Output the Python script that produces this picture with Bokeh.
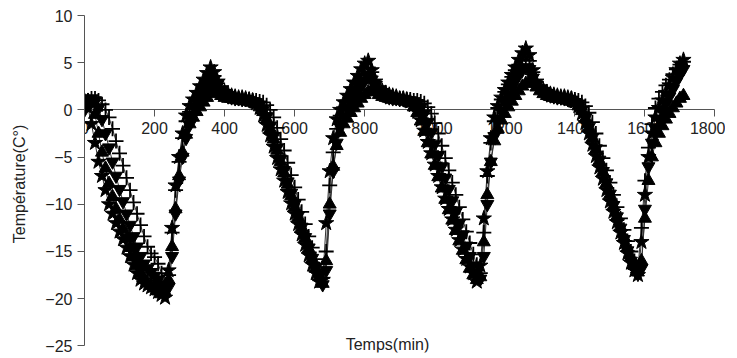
from bokeh.plotting import figure
from bokeh.models import Range1d, FixedTicker, Label
from bokeh.embed import file_html
from bokeh.resources import INLINE

# ---- data ----
time_min = list(range(0, 1720, 10))

x_ticks = [0, 200, 400, 600, 800, 1000, 1200, 1400, 1600, 1800]
y_ticks = [10, 5, 0, -5, -10, -15, -20, -25]

serie_a = [
    1.0, 0.2, -1.5, -3.5, -5.5, -7.0, -8.5, -10.0, -11.0, -12.0,
    -12.9, -13.7, -14.6, -15.5, -16.4, -17.3, -18.0, -18.4, -18.6, -18.8,
    -19.0, -19.3, -19.6, -19.9, -17.0, -12.5, -8.0, -5.0, -2.5, -0.6,
    0.4, 1.1, 1.8, 2.5, 3.2, 3.9, 4.5, 4.0, 3.0, 2.3,
    1.9, 1.7, 1.5, 1.4, 1.3, 1.3, 1.2, 1.1, 1.0, 0.7,
    0.2, -0.6, -1.6, -2.7, -3.9, -5.1, -6.3, -7.5, -8.7, -9.9,
    -11.0, -12.1, -13.2, -14.3, -15.4, -16.4, -17.3, -18.2, -18.0, -12.0,
    -6.5, -3.0, -1.0, 0.0, 0.8, 1.5, 2.2, 2.9, 3.6, 4.3,
    4.9, 5.2, 4.2, 3.0, 2.3, 2.0, 1.8, 1.6, 1.5, 1.4,
    1.2, 1.2, 1.1, 0.9, 0.5, -0.2, -1.1, -2.2, -3.4, -4.6,
    -5.8, -7.0, -8.2, -9.4, -10.5, -11.6, -12.7, -13.8, -14.8, -15.8,
    -16.6, -17.3, -18.2, -16.5, -11.5, -6.5, -3.0, -0.8, 0.4, 1.3,
    2.1, 2.9, 3.7, 4.5, 5.3, 6.0, 6.5, 5.8, 4.2, 3.0,
    2.4, 2.1, 1.9, 1.7, 1.6, 1.5, 1.4, 1.4, 1.3, 1.2,
    0.9, 0.4, -0.4, -1.4, -2.5, -3.7, -4.9, -6.1, -7.3, -8.5,
    -9.7, -10.8, -11.9, -13.0, -14.1, -15.2, -16.2, -17.0, -17.5, -14.0,
    -9.0, -5.0, -2.5, -0.8, 0.2, 1.0, 1.8, 2.6, 3.4, 4.2,
    4.9, 5.3,
]

serie_b = [
    0.5, 1.0, 0.8, -0.5, -2.5, -4.5, -6.2, -7.8, -9.2, -10.5,
    -11.6, -12.6, -13.6, -14.6, -15.6, -16.5, -17.3, -17.9, -18.3, -18.6,
    -18.9, -19.2, -19.5, -19.3, -18.0, -14.5, -10.5, -7.0, -4.5, -2.6,
    -1.5, -0.8, -0.2, 0.3, 0.8, 1.3, 1.7, 2.0, 1.8, 1.5,
    1.3, 1.2, 1.2, 1.1, 1.1, 1.0, 1.0, 0.9, 0.8, 0.6,
    0.3, -0.2, -1.0, -2.0, -3.1, -4.3, -5.5, -6.7, -7.9, -9.1,
    -10.3, -11.4, -12.5, -13.6, -14.7, -15.8, -16.8, -17.7, -18.4, -16.0,
    -10.0, -6.0, -3.8, -2.4, -1.5, -0.9, -0.3, 0.2, 0.7, 1.2,
    1.6, 1.9, 2.1, 1.9, 1.6, 1.4, 1.3, 1.2, 1.1, 1.1,
    1.0, 1.0, 0.9, 0.7, 0.3, -0.3, -1.2, -2.3, -3.5, -4.7,
    -5.9, -7.1, -8.3, -9.5, -10.6, -11.7, -12.8, -13.9, -14.9, -15.9,
    -16.8, -17.5, -18.0, -17.7, -14.0, -9.0, -5.5, -3.3, -2.0, -1.1,
    -0.4, 0.3, 0.9, 1.5, 2.0, 2.5, 2.8, 3.0, 2.8, 2.4,
    2.0, 1.7, 1.5, 1.4, 1.3, 1.2, 1.2, 1.1, 1.0, 0.9,
    0.7, 0.4, -0.1, -0.9, -1.9, -3.0, -4.2, -5.4, -6.6, -7.8,
    -9.0, -10.2, -11.3, -12.4, -13.5, -14.6, -15.6, -16.5, -17.2, -16.0,
    -11.5, -7.5, -5.0, -3.5, -2.5, -1.7, -1.0, -0.4, 0.2, 0.7,
    1.2, 1.5,
]

serie_c = [
    0.5, 1.0, 1.2, 1.2, 1.0, 0.6, 0.0, -0.8, -2.0, -3.3,
    -4.6, -5.9, -7.2, -8.5, -9.8, -11.0, -12.2, -13.4, -14.5, -15.2,
    -15.6, -16.3, -17.3, -18.5, -17.5, -13.0, -8.5, -5.5, -3.0, -1.2,
    -0.2, 0.6, 1.3, 2.0, 2.7, 3.3, 3.8, 3.6, 2.8, 2.1,
    1.7, 1.5, 1.4, 1.3, 1.2, 1.2, 1.1, 1.1, 1.0, 1.0,
    0.9, 0.8, 0.5, 0.0, -0.8, -1.9, -3.1, -4.3, -5.6, -6.9,
    -8.2, -9.5, -10.8, -12.1, -13.4, -14.6, -15.8, -16.9, -17.8, -15.0,
    -8.0, -4.5, -2.0, -0.6, 0.3, 1.0, 1.7, 2.4, 3.0, 3.6,
    4.1, 4.5, 4.0, 3.0, 2.3, 1.9, 1.7, 1.5, 1.4, 1.3,
    1.2, 1.2, 1.1, 1.1, 1.0, 1.0, 0.9, 0.7, 0.3, -0.4,
    -1.4, -2.5, -3.8, -5.1, -6.4, -7.7, -9.0, -10.3, -11.6, -12.9,
    -14.1, -15.3, -16.4, -17.3, -13.0, -7.0, -3.5, -1.2, 0.2, 1.1,
    1.9, 2.7, 3.5, 4.2, 4.8, 5.3, 5.6, 5.2, 4.0, 3.0,
    2.4, 2.0, 1.8, 1.6, 1.5, 1.4, 1.3, 1.3, 1.2, 1.2,
    1.1, 1.0, 0.8, 0.4, -0.3, -1.3, -2.5, -3.8, -5.1, -6.4,
    -7.7, -9.0, -10.3, -11.5, -12.7, -13.9, -15.0, -16.0, -16.8, -12.5,
    -7.5, -4.0, -1.5, 0.2, 1.2, 1.9, 2.6, 3.2, 3.8, 4.3,
    4.8, 5.1,
]

serie_d = [
    0.0, 0.8, 1.2, 1.0, 0.2, -1.0, -2.5, -4.0, -5.5, -7.0,
    -8.4, -9.7, -11.0, -12.2, -13.4, -14.5, -15.5, -16.3, -16.8, -17.2,
    -17.6, -18.0, -18.5, -19.0, -18.8, -15.5, -11.0, -7.5, -5.0, -3.0,
    -1.6, -0.6, 0.2, 0.9, 1.6, 2.3, 2.9, 3.2, 2.7, 2.0,
    1.6, 1.4, 1.3, 1.2, 1.2, 1.1, 1.1, 1.0, 0.9, 0.8,
    0.5, 0.0, -0.7, -1.7, -2.8, -4.0, -5.2, -6.4, -7.6, -8.8,
    -10.0, -11.2, -12.4, -13.5, -14.6, -15.7, -16.7, -17.6, -18.5, -17.0,
    -11.0, -6.5, -3.5, -1.8, -0.7, 0.1, 0.8, 1.4, 2.0, 2.6,
    3.1, 3.5, 3.2, 2.5, 1.9, 1.6, 1.4, 1.3, 1.2, 1.2,
    1.1, 1.1, 1.0, 1.0, 0.9, 0.7, 0.3, -0.4, -1.3, -2.4,
    -3.6, -4.8, -6.0, -7.2, -8.4, -9.6, -10.8, -12.0, -13.2, -14.4,
    -15.5, -16.5, -17.3, -17.9, -15.5, -10.0, -5.5, -2.8, -1.2, -0.1,
    0.8, 1.6, 2.4, 3.1, 3.7, 4.2, 4.5, 4.3, 3.4, 2.6,
    2.1, 1.8, 1.6, 1.5, 1.4, 1.3, 1.3, 1.2, 1.1, 1.0,
    0.8, 0.5, 0.0, -0.8, -1.8, -2.9, -4.1, -5.3, -6.5, -7.7,
    -8.9, -10.1, -11.3, -12.5, -13.7, -14.9, -16.0, -16.9, -17.4, -16.8,
    -10.5, -6.0, -3.5, -2.0, -1.0, -0.2, 0.6, 1.4, 2.2, 3.0,
    3.7, 4.3,
]

FONT = "Liberation Sans"

p = figure(frame_width=641, frame_height=337, output_backend="svg",
           toolbar_location=None,
           x_range=Range1d(0, 1830), y_range=Range1d(-25.7, 10),
           min_border_left=84, min_border_right=0, min_border_top=15,
           min_border_bottom=2)

p.grid.visible = False
p.outline_line_color = None
p.background_fill_color = "white"

p.xaxis.fixed_location = 0
p.xaxis.bounds = (0, 1800)
p.yaxis.bounds = (-25, 10)
p.xaxis.ticker = FixedTicker(ticks=x_ticks)
p.yaxis.ticker = FixedTicker(ticks=y_ticks)
for ax in (p.xaxis, p.yaxis):
    ax.minor_tick_line_color = None
    ax.major_tick_in = 0
    ax.major_tick_out = 7
    ax.axis_line_color = "#555555"
    ax.major_tick_line_color = "#555555"
    ax.major_label_text_font = FONT
    ax.major_label_text_font_size = "16px"
    ax.major_label_text_color = "#222222"
p.xaxis.level = "underlay"

p.yaxis.axis_label = "Température(C°)"
p.yaxis.axis_label_text_font = FONT
p.yaxis.axis_label_text_font_size = "16px"
p.yaxis.axis_label_text_font_style = "normal"
p.yaxis.axis_label_text_color = "#222222"
p.yaxis.axis_label_standoff = 14
p.yaxis.major_label_standoff = 5

LINE = "#333333"
for ys in (serie_a, serie_b, serie_c, serie_d):
    p.line(time_min, ys, line_color=LINE, line_width=1)

p.scatter(time_min, serie_c, marker="cross", size=15, line_color="black",
          line_width=1.8)
p.scatter(time_min, serie_d, marker="inverted_triangle", size=13,
          fill_color="black", line_color="black")
p.scatter(time_min, serie_b, marker="triangle", size=13,
          fill_color="black", line_color="black")
p.scatter(time_min, serie_a, marker="star", size=16,
          fill_color="black", line_color="black")

p.add_layout(Label(x=865, y=-24.85, text="Temps(min)", text_align="center",
                   text_baseline="middle", text_font=FONT,
                   text_font_size="16px", text_color="#222222"))

open("out.html", "w").write(file_html(p, INLINE))
